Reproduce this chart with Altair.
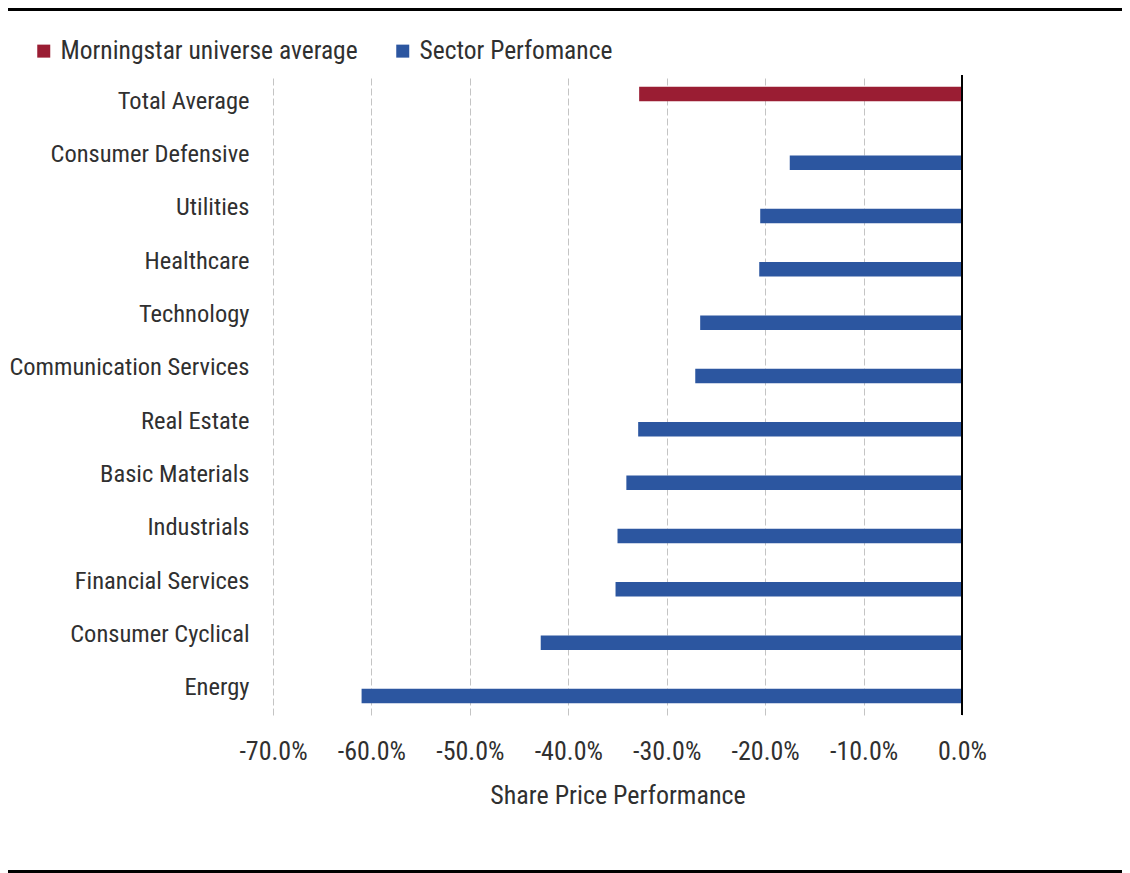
import altair as alt
import pandas as pd

categories = ["Total Average", "Consumer Defensive", "Utilities", "Healthcare",
              "Technology", "Communication Services", "Real Estate",
              "Basic Materials", "Industrials", "Financial Services",
              "Consumer Cyclical", "Energy"]
series = ["Morningstar universe average"] + ["Sector Perfomance"] * 11
values = [-0.328, -0.175, -0.205, -0.206, -0.266, -0.271, -0.329,
          -0.341, -0.350, -0.352, -0.428, -0.610]
series_names = ["Morningstar universe average", "Sector Perfomance"]
series_colors = ["#9a1d33", "#2c56a0"]
x_ticks = [-0.7, -0.6, -0.5, -0.4, -0.3, -0.2, -0.1, 0.0]

df = pd.DataFrame({"Sector": categories, "Series": series, "Performance": values})

FONT = "Roboto Condensed"
TEXT = "#303030"
MINUS = "\u2212"

bars = alt.Chart(df).mark_bar().encode(
    x=alt.X("Performance:Q",
            scale=alt.Scale(domain=[-0.7, 0.0], nice=False),
            axis=alt.Axis(values=x_ticks,
                          labelExpr="replace(format(datum.value, '.1%'), '" + MINUS + "', '-')",
                          title="Share Price Performance",
                          grid=True, gridDash=[7, 3], gridColor="#c4c4c4", gridWidth=1,
                          domain=False, ticks=False, labelPadding=23, titlePadding=18,
                          labelOverlap=False, labelFlush=False,
                          labelFontSize=26, titleFontSize=26)),
    y=alt.Y("Sector:N", sort=categories,
            scale=alt.Scale(paddingInner=0.44, paddingOuter=0.22),
            axis=alt.Axis(title=None, domain=False, ticks=False, grid=False,
                          labelPadding=24, labelLimit=400, labelFontSize=24.5)),
    yOffset=alt.YOffset("Series:N", sort=series_names,
                        scale=alt.Scale(domain=series_names, paddingInner=0.05)),
    color=alt.Color("Series:N",
                    scale=alt.Scale(domain=series_names, range=series_colors),
                    legend=alt.Legend(title=None, orient="none", direction="horizontal",
                                      legendX=-242, legendY=-37, padding=0,
                                      symbolType="square", symbolSize=169,
                                      symbolStrokeWidth=0, labelOffset=4,
                                      columnPadding=32, labelFont=FONT,
                                      labelFontSize=25.5, labelColor=TEXT,
                                      labelLimit=500)),
)

zero_line = alt.Chart(pd.DataFrame({"x": [0.0]})).mark_rule(
    color="black", strokeWidth=2).encode(x="x:Q")

top_border = alt.Chart(pd.DataFrame({"a": [0]})).mark_rule(
    color="black", strokeWidth=3).encode(
    x=alt.value(-265), x2=alt.value(849), y=alt.value(-65.5))
bottom_border = alt.Chart(pd.DataFrame({"a": [0]})).mark_rule(
    color="black", strokeWidth=3).encode(
    x=alt.value(-265), x2=alt.value(849), y=alt.value(796.5))

chart = alt.layer(bars, zero_line, top_border, bottom_border).properties(
    width=689, height=640,
    autosize=alt.AutoSizeParams(type="none"),
    padding={"left": 265, "top": 67, "right": 160, "bottom": 158},
).configure_view(stroke=None).configure_axis(
    labelFont=FONT, labelColor=TEXT,
    titleFont=FONT, titleColor=TEXT, titleFontWeight="normal",
)

chart.save("out.html", embed_options={"renderer": "svg", "actions": False})
